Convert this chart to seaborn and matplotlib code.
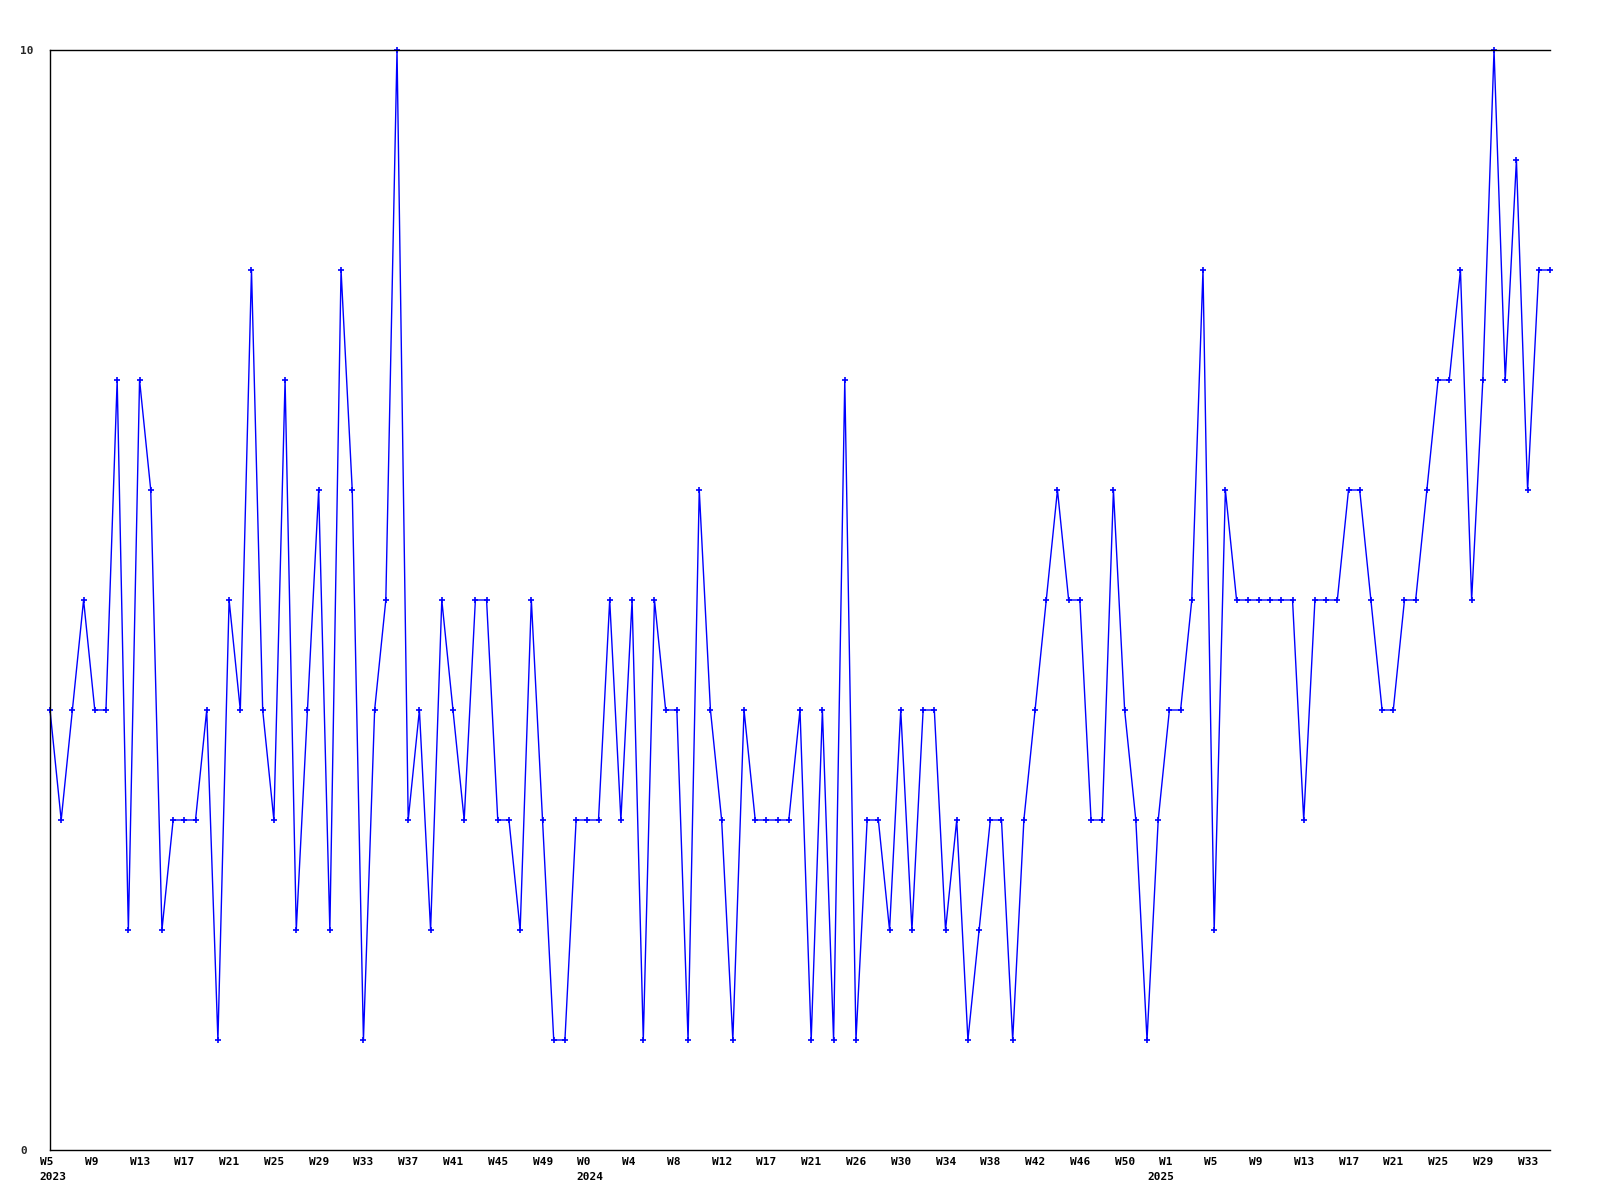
import pandas as pd
import matplotlib.pyplot as plt
import matplotlib.transforms as mtransforms
import seaborn as sns

# weekly counts, one value per week starting 2023 W5
counts = [4, 3, 4, 5, 4, 4, 7, 2, 7, 6,
          2, 3, 3, 3, 4, 1, 5, 4, 8, 4,
          3, 7, 2, 4, 6, 2, 8, 6, 1, 4,
          5, 10, 3, 4, 2, 5, 4, 3, 5, 5,
          3, 3, 2, 5, 3, 1, 1, 3, 3, 3,
          5, 3, 5, 1, 5, 4, 4, 1, 6, 4,
          3, 1, 4, 3, 3, 3, 3, 4, 1, 4,
          1, 7, 1, 3, 3, 2, 4, 2, 4, 4,
          2, 3, 1, 2, 3, 3, 1, 3, 4, 5,
          6, 5, 5, 3, 3, 6, 4, 3, 1, 3,
          4, 4, 5, 8, 2, 6, 5, 5, 5, 5,
          5, 5, 3, 5, 5, 5, 6, 6, 5, 4,
          4, 5, 5, 6, 7, 7, 8, 5, 7, 10,
          7, 9, 6, 8, 8]

# a label on every 4th week
week_labels = ["W5", "W9", "W13", "W17", "W21", "W25", "W29", "W33",
               "W37", "W41", "W45", "W49", "W0", "W4", "W8", "W12",
               "W17", "W21", "W26", "W30", "W34", "W38", "W42", "W46",
               "W50", "W1", "W5", "W9", "W13", "W17", "W21", "W25",
               "W29", "W33"]

# year labels and the week (row number) where each year starts
years = ["2023", "2024", "2025"]
year_start_week = [0, 48, 99]

df = pd.DataFrame({'week': range(len(counts)), 'count': counts})

sns.set_style("white")
plt.rcParams['font.family'] = ['DejaVu Sans Mono', 'DejaVu Sans']

fig = plt.figure(figsize=(16, 12), dpi=100)
ax = fig.add_axes([50 / 1600, 50 / 1200, 1500 / 1600, 1100 / 1200])

sns.lineplot(data=df, x='week', y='count', ax=ax, color='#0000FF',
             linewidth=1, marker='+', markersize=4, markeredgewidth=1.2,
             markeredgecolor='#0000FF', clip_on=False)

ax.set_xlim(0, len(counts) - 1)
ax.set_ylim(0, 10)
ax.set_xlabel('')
ax.set_ylabel('')

ax.set_yticks([0, 10])
ax.set_yticklabels(['0', '10'], fontsize=8, fontweight='bold', ha='left')
ax.tick_params(axis='y', length=0, pad=21.6)

ax.set_xticks(range(0, len(counts), 4))
ax.set_xticklabels([])
ax.tick_params(axis='x', length=0)

# week labels: left edge ~10px before the week
xtrans = ax.get_xaxis_transform()
wk_off = mtransforms.ScaledTranslation(-10 / 100, -7 / 100, fig.dpi_scale_trans)
for i, lab in zip(range(0, len(counts), 4), week_labels):
    ax.text(i, 0, lab, transform=xtrans + wk_off, ha='left', va='top',
            fontsize=8, fontweight='bold', color='black')

# year labels on a second row, centred on the first week of the year
yr_off = mtransforms.ScaledTranslation(3 / 100, -22 / 100, fig.dpi_scale_trans)
for i, yr in zip(year_start_week, years):
    ax.text(i, 0, yr, transform=xtrans + yr_off, ha='center', va='top',
            fontsize=8, fontweight='bold', color='black')

for side in ['left', 'top', 'bottom']:
    ax.spines[side].set_color('black')
    ax.spines[side].set_linewidth(1)
ax.spines['right'].set_visible(False)

fig.savefig('out.png', dpi=100)
